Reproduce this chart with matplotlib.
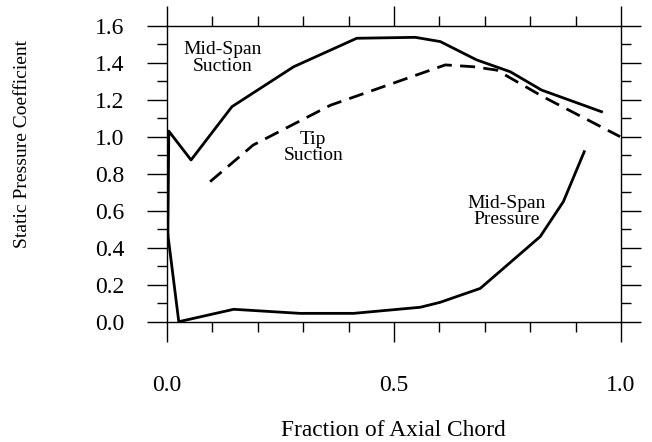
import matplotlib
matplotlib.use("Agg")
import matplotlib.pyplot as plt
from matplotlib.ticker import MultipleLocator, FormatStrFormatter

plt.rcParams['font.family'] = ['Liberation Serif', 'DejaVu Serif']

# blade surface pressure distributions
ms_suction_x = [0.002, 0.004, 0.053, 0.143, 0.279, 0.418, 0.547, 0.602, 0.682, 0.756, 0.825, 0.957]
ms_suction_y = [0.47, 1.03, 0.874, 1.162, 1.378, 1.532, 1.537, 1.514, 1.415, 1.351, 1.252, 1.135]

tip_suction_x = [0.095, 0.19, 0.36, 0.613, 0.675, 0.726, 0.829, 0.998]
tip_suction_y = [0.757, 0.955, 1.17, 1.388, 1.378, 1.36, 1.215, 1.0]

ms_pressure_x = [0.002, 0.026, 0.147, 0.293, 0.411, 0.558, 0.602, 0.690, 0.822, 0.873, 0.919]
ms_pressure_y = [0.47, 0.0, 0.067, 0.045, 0.045, 0.078, 0.105, 0.18, 0.46, 0.649, 0.919]

fig = plt.figure(figsize=(6.52, 4.42), dpi=100)
ax = fig.add_axes([0.2561, 0.2722, 0.6964, 0.6697])

ax.plot(ms_suction_x, ms_suction_y, color='black', lw=2.0)
ax.plot(tip_suction_x, tip_suction_y, color='black', lw=2.0, dashes=(5.4, 3.0))
ax.plot(ms_pressure_x, ms_pressure_y, color='black', lw=2.0)

ax.text(0.122, 1.425, "Mid-Span\nSuction", ha='center', va='center', fontsize=14, linespacing=0.95)
ax.text(0.322, 0.94, "Tip\nSuction", ha='center', va='center', fontsize=14, linespacing=0.95)
ax.text(0.748, 0.595, "Mid-Span\nPressure", ha='center', va='center', fontsize=14, linespacing=0.95)

ax.set_xlim(0, 1.0)
ax.set_ylim(0, 1.6)
ax.xaxis.set_major_locator(MultipleLocator(0.5))
ax.xaxis.set_minor_locator(MultipleLocator(0.1))
ax.yaxis.set_major_locator(MultipleLocator(0.2))
ax.yaxis.set_minor_locator(MultipleLocator(0.1))
ax.xaxis.set_major_formatter(FormatStrFormatter('%.1f'))
ax.yaxis.set_major_formatter(FormatStrFormatter('%.1f'))

ax.tick_params(which='both', direction='out', top=True, right=True, width=1.0, labelsize=17)
ax.tick_params(which='major', length=14.4)
ax.tick_params(which='minor', length=7.2)
ax.tick_params(axis='x', which='major', pad=24)
ax.tick_params(axis='y', which='major', pad=16)
for s in ax.spines.values():
    s.set_linewidth(1.0)

fig.text(0.603, 0.027, "Fraction of Axial Chord", ha='center', va='center', fontsize=16.8)
fig.text(0.0345, 0.674, "Static Pressure Coefficient", ha='center', va='center',
         rotation=90, fontsize=14)

fig.savefig("out.png", dpi=100)
